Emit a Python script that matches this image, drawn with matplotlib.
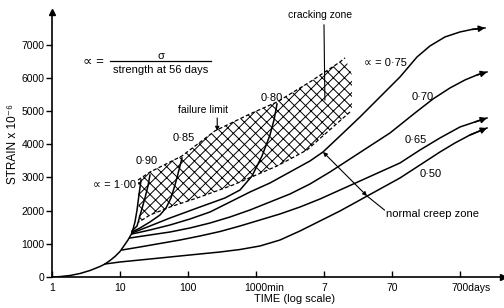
import matplotlib
matplotlib.use('Agg')
import matplotlib.pyplot as plt
import matplotlib.transforms as mtransforms
from matplotlib.patches import Polygon

plt.rcParams['font.family'] = ['Liberation Sans', 'DejaVu Sans']
plt.rcParams['hatch.linewidth'] = 0.7

########################################################################################################################
# data: time in minutes (log axis), strain in 1e-6
# loading branch shared by all curves
load_t = [1, 1.31, 1.84, 2.58, 3.62, 5.08, 6.02, 7.13, 8.43, 10.0, 11.4, 13.1, 15.0]
load_s = [0, 12, 45, 105, 196, 316, 392, 497, 617, 768, 934, 1114, 1325]

# curves ending at the failure limit
t_100 = [15.0, 16.6, 17.8, 19.0, 20.4]
s_100 = [1325, 1657, 2018, 2470, 2922]
t_090 = [15.0, 17.8, 20.4, 23.3, 25.8, 27.6]
s_090 = [1386, 1536, 1958, 2380, 2741, 3072]
t_085 = [15.0, 19.7, 27.6, 38.7, 47.5, 56.2, 64.4, 73.7, 81.6]
s_085 = [1355, 1476, 1657, 1867, 2078, 2380, 2771, 3223, 3584]
t_080 = [15.0, 27.6, 54.4, 150, 350, 582, 874, 1225, 1606, 1840, 2037]
s_080 = [1325, 1536, 1777, 2108, 2380, 2620, 3042, 3644, 4277, 4729, 5211]

# normal creep curves (with arrow heads)
t_075 = [15.0, 27.6, 54.4, 107, 211, 415, 816, 1606, 3162, 6223, 9670, 17180, 33820, 66630,
         131100, 233300, 362000, 601600, 1.0e6, 1.501e6, 2.333e6]
s_075 = [1295, 1416, 1566, 1747, 1958, 2259, 2560, 2831, 3163, 3494, 3765, 4247, 4819, 5422,
         6024, 6626, 6958, 7229, 7379, 7455, 7500]
t_070 = [14.0, 27.6, 54.4, 107, 211, 415, 816, 1606, 3162, 6223, 12250, 24110, 47460, 93450,
         131100, 217900, 400900, 712800, 1.185e6, 1.778e6, 2.495e6]
s_070 = [1175, 1265, 1355, 1476, 1626, 1807, 2018, 2259, 2500, 2801, 3163, 3554, 3946, 4337,
         4578, 4940, 5361, 5693, 5934, 6084, 6175]
t_065 = [10.7, 19.7, 38.7, 76.3, 150, 296, 582, 1145, 2254, 4436, 8730, 17180, 33820, 66630,
         131100, 258200, 508000, 1.0e6, 1.662e6, 2.495e6]
s_065 = [813, 904, 1009, 1114, 1235, 1370, 1536, 1717, 1898, 2108, 2349, 2620, 2891, 3163,
         3434, 3825, 4187, 4518, 4669, 4789]
t_050 = [6.02, 10.0, 19.7, 38.7, 76.3, 150, 296, 582, 1145, 2254, 4436, 8730, 17180, 33820,
         66630, 131100, 258200, 508000, 844100, 1.403e6, 2.495e6]
s_050 = [392, 452, 512, 572, 633, 693, 753, 828, 934, 1114, 1386, 1687, 1988, 2319,
         2651, 2982, 3373, 3765, 4036, 4277, 4488]

# cracking zone band (upper edge = failure limit)
upper_t = [18.4, 27.6, 81.6, 249, 816, 2037, 6223, 17180, 20370, 25820, 25820]
upper_s = [2920, 3160, 3645, 4400, 4910, 5270, 5875, 6475, 6600, 6085, 5090]
lower_t = [24110, 5623, 2037, 459, 150, 54.4, 27.6, 19.0]
lower_s = [4970, 3825, 3343, 2771, 2410, 2108, 1867, 1657]

xticks = [1, 10, 100, 1000, 10080, 100800, 1008000]
xticklabels = ['1', '10', '100', '1000min', '7', '70', '700days']
yticks = [0, 1000, 2000, 3000, 4000, 5000, 6000, 7000]

########################################################################################################################
# plotting
fig = plt.figure(figsize=(5.04, 3.08), dpi=100)
ax = fig.add_axes([52 / 504, 31 / 308, 451 / 504, 265 / 308])
ax.set_xscale('log')
ax.set_xlim(1, 10 ** (451 / 68))
ax.set_ylim(0, 7980)

lw = 1.1
dash = (0, (3, 1.8))
# hatched cracking zone
band = Polygon(list(zip(upper_t + lower_t, upper_s + lower_s)), closed=True, facecolor='none',
               edgecolor='black', hatch='xxx', linewidth=0)
ax.add_patch(band)
ax.plot(upper_t[:9], upper_s[:9], color='black', lw=0.9, ls=dash)
ax.plot(lower_t, lower_s, color='black', lw=0.9, ls=dash)

ax.plot(load_t, load_s, color='black', lw=lw)
for t, s in [(t_100, s_100), (t_090, s_090), (t_085, s_085), (t_080, s_080)]:
    ax.plot(t, s, color='black', lw=lw)
for t, s in [(t_075, s_075), (t_070, s_070), (t_065, s_065), (t_050, s_050)]:
    ax.plot(t, s, color='black', lw=lw)
    ax.annotate('', xy=(t[-1], s[-1]), xytext=(t[-2], s[-2]),
                arrowprops=dict(arrowstyle='-|>', color='black', lw=lw, mutation_scale=9,
                                shrinkA=0, shrinkB=0))

# curve labels
fs = 7.5
ax.text(17, 2770, '∝ = 1·00', fontsize=8, ha='right', va='center')
ax.text(24.7, 3490, '0·90', fontsize=8, ha='center', va='center')
ax.text(87.3, 4185, '0·85', fontsize=8, ha='center', va='center')
ax.text(1690, 5390, '0·80', fontsize=8, ha='center', va='center')
ax.text(80200, 6445, '∝ = 0·75', fontsize=8, ha='center', va='center')
ax.text(283000, 5420, '0·70', fontsize=8, ha='center', va='center')
ax.text(224000, 4125, '0·65', fontsize=8, ha='center', va='center')
ax.text(371000, 3100, '0·50', fontsize=8, ha='center', va='center')

# definition of alpha
ax.text(4.05, 6475, '∝ =', fontsize=9.5, ha='center', va='center')
ax.plot([7.2, 219], [6500, 6500], color='black', lw=0.9)
ax.text(39.8, 6670, 'σ', fontsize=8, ha='center', va='center')
ax.text(39.8, 6235, 'strength at 56 days', fontsize=8, ha='center', va='center')

# zone annotations
ax.text(167, 5030, 'failure limit', fontsize=fs, ha='center', va='center')
ax.annotate('', xy=(269, 4400), xytext=(269, 4790),
            arrowprops=dict(arrowstyle='-|>', color='black', lw=0.8, mutation_scale=6,
                            shrinkA=0, shrinkB=0))
ax.text(8800, 7890, 'cracking zone', fontsize=fs, ha='center', va='center')
ax.plot([10000, 10300], [7590, 5330], color='black', lw=0.8)
ax.annotate('', xy=(9670, 3765), xytext=(42880, 2440),
            arrowprops=dict(arrowstyle='<|-|>', color='black', lw=0.8, mutation_scale=6,
                            shrinkA=0, shrinkB=0))
ax.plot([42880, 77400], [2440, 2018], color='black', lw=0.8)
ax.text(82500, 1900, 'normal creep zone', fontsize=8, ha='left', va='center')

# axes layout
for side in ['top', 'right']:
    ax.spines[side].set_visible(False)
for side in ['left', 'bottom']:
    ax.spines[side].set_linewidth(1.2)
ax.plot(0, 1, '^k', ms=5, transform=ax.transAxes, clip_on=False)
ax.plot(1, 0, '>k', ms=5, transform=ax.transAxes, clip_on=False)

ax.set_xticks(xticks)
ax.set_xticklabels(xticklabels)
ax.minorticks_off()
ax.set_yticks(yticks)
ax.set_yticklabels([str(v) for v in yticks])
ax.tick_params(axis='x', direction='in', length=4, width=1, labelsize=fs, pad=4)
ax.tick_params(axis='y', direction='out', length=4, width=1, labelsize=fs, pad=1.5)
# keep the number centred on its tick, unit hanging to the right
for lab, shift in [(ax.get_xticklabels()[3], 11.5), (ax.get_xticklabels()[6], 8.7)]:
    lab.set_horizontalalignment('left')
    lab.set_transform(lab.get_transform() +
                      mtransforms.ScaledTranslation(-shift / 100, 0, fig.dpi_scale_trans))

ax.set_xlabel('TIME (log scale)', fontsize=8, va='center')
ax.xaxis.set_label_coords(0.537, -0.083)
ax.set_ylabel('STRAIN x 10⁻⁶', fontsize=8.5, va='center')
ax.yaxis.set_label_coords(-0.087, 0.50)

fig.savefig('out.png', dpi=100)
